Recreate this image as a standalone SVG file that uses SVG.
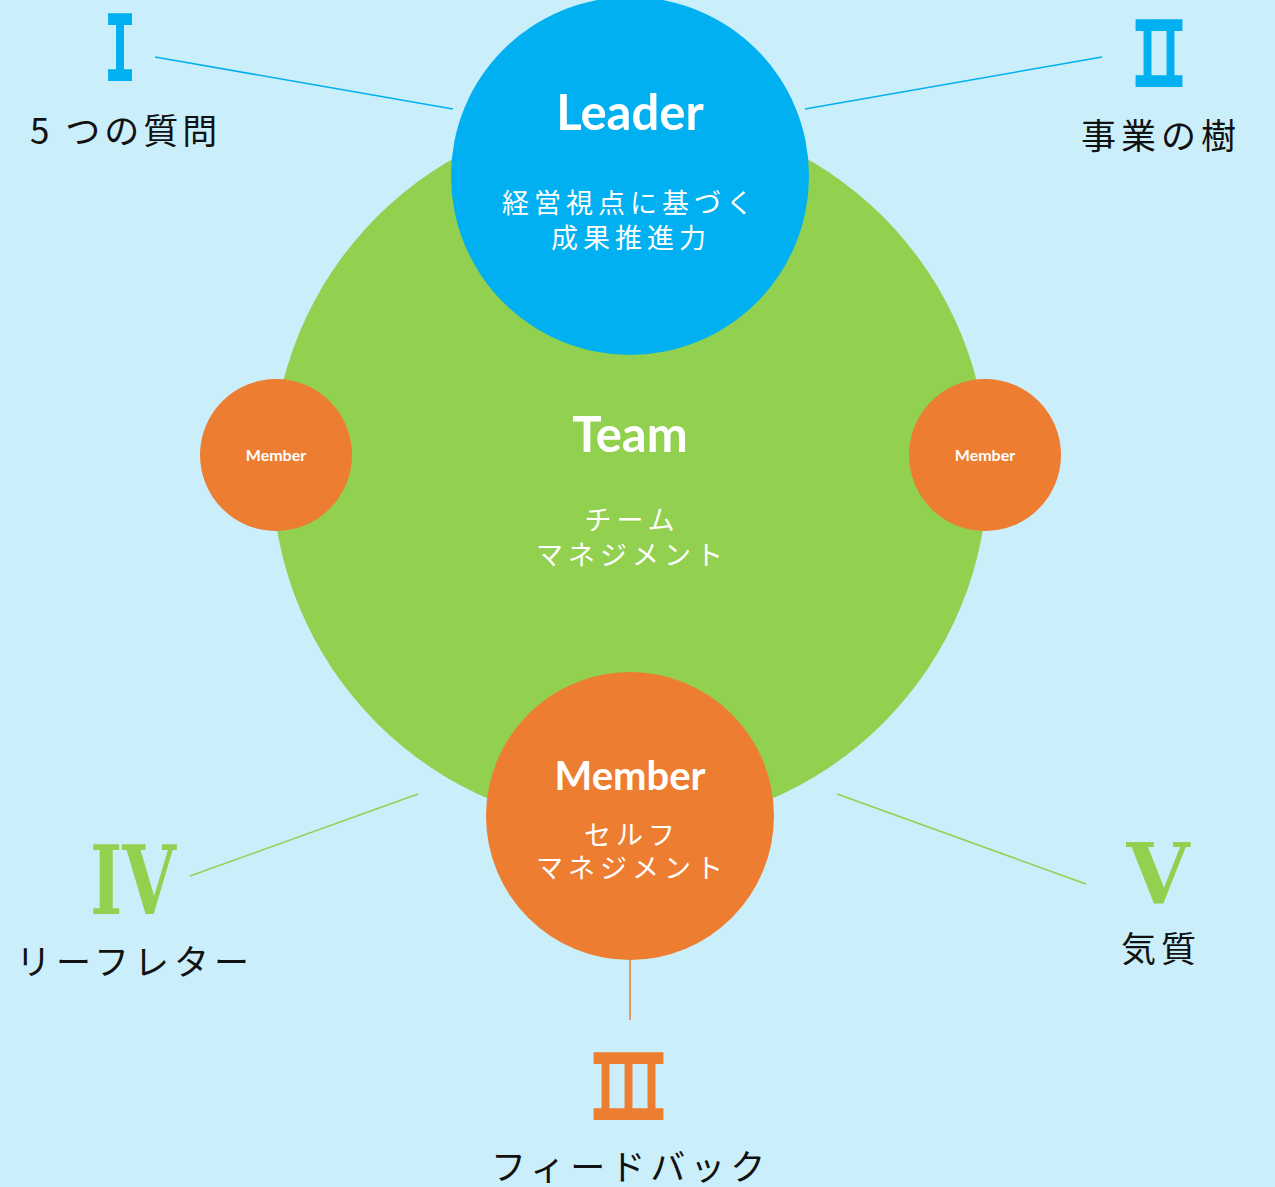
<svg xmlns="http://www.w3.org/2000/svg" width="1275" height="1187" viewBox="0 0 1275 1187">
<style>
.en{font-family:Lato,"Open Sans","Liberation Sans",sans-serif;font-weight:bold;fill:#fff;text-anchor:middle}
.jw{font-family:"Noto Sans CJK JP","Noto Sans",sans-serif;fill:#fff;text-anchor:middle;font-size:27px;letter-spacing:5px}
.lb{font-family:"Noto Sans CJK JP","Noto Sans",sans-serif;fill:#111;font-size:35px;letter-spacing:5px}
.rn{font-family:"DejaVu Sans Mono",monospace;font-weight:bold;font-size:93px;letter-spacing:-17px}
.rs{font-family:"DejaVu Serif","Liberation Serif",serif;font-weight:bold;text-anchor:middle}
.ln{fill:none;stroke-width:1.5}
</style>
<rect width="1275" height="1187" fill="#cbeffa"/>
<g id="connectors">
<line class="ln" x1="155" y1="57" x2="453" y2="109" stroke="#00b0f0"/>
<line class="ln" x1="805" y1="109" x2="1102" y2="57" stroke="#00b0f0"/>
<line class="ln" x1="190" y1="876" x2="418" y2="794" stroke="#92d050"/>
<line class="ln" x1="837" y1="794" x2="1086" y2="884" stroke="#92d050"/>
<line class="ln" x1="630" y1="958" x2="630" y2="1020" stroke="#ed7d31"/>
</g>
<g id="team">
<circle cx="630" cy="470" r="358" fill="#92d050"/>
<text class="en" x="630" y="452" font-size="49">Team</text>
<text class="jw" x="632" y="530">チーム</text>
<text class="jw" x="632" y="565">マネジメント</text>
</g>
<g id="leader">
<circle cx="630" cy="176" r="179" fill="#00b0f0"/>
<text class="en" x="630" y="130" font-size="49">Leader</text>
<text class="jw" x="630" y="213">経営視点に基づく</text>
<text class="jw" x="631" y="248">成果推進力</text>
</g>
<g id="member-left">
<circle cx="276" cy="455" r="76" fill="#ed7d31"/>
<text class="en" x="276" y="461" font-size="16">Member</text>
</g>
<g id="member-right">
<circle cx="985" cy="455" r="76" fill="#ed7d31"/>
<text class="en" x="985" y="461" font-size="16">Member</text>
</g>
<g id="member-bottom">
<circle cx="630" cy="816" r="144" fill="#ed7d31"/>
<text class="en" x="630" y="790" font-size="40">Member</text>
<text class="jw" x="632" y="845">セルフ</text>
<text class="jw" x="632" y="878">マネジメント</text>
</g>
<g id="label-1">
<text class="rn" transform="translate(120 81) scale(0.59 1)" x="-28" y="0" fill="#00b0f0">I</text>
<text class="lb" x="30" y="144" style="letter-spacing:4px">5 つの質問</text>
</g>
<g id="label-2">
<text class="rn" transform="translate(1159 87) scale(0.59 1)" x="-47.5" y="0" fill="#00b0f0">II</text>
<text class="lb" x="1081" y="149">事業の樹</text>
</g>
<g id="label-3">
<text class="rn" transform="translate(628.5 1120) scale(0.59 1)" x="-67" y="0" fill="#ed7d31">III</text>
<text class="lb" x="491" y="1180">フィードバック</text>
</g>
<g id="label-4">
<text class="rs" x="133" y="914" font-size="95" fill="#92d050" textLength="86" lengthAdjust="spacingAndGlyphs">IV</text>
<text class="lb" x="16" y="975">リーフレター</text>
</g>
<g id="label-5">
<text class="rs" x="1158" y="904" font-size="84" fill="#92d050" textLength="63" lengthAdjust="spacingAndGlyphs">V</text>
<text class="lb" x="1121" y="962">気質</text>
</g>
</svg>
